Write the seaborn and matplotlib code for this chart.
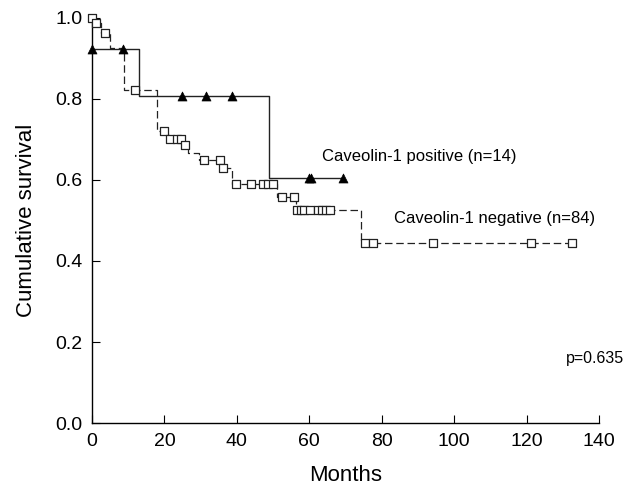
import numpy as np
import pandas as pd
import matplotlib
matplotlib.use("Agg")
import matplotlib.pyplot as plt
import seaborn as sns

# Kaplan-Meier steps (months, survival)
pos_times = [0, 13, 48.9, 69.4]
pos_surv = [0.923, 0.808, 0.606, 0.606]
pos_censor = [0, 8.5, 24.8, 31.4, 38.6, 59.8, 60.4, 69.4]

neg_times = [0, 1, 2.5, 5, 8.7, 18, 21, 25.5, 26.5, 29.5, 36, 38.6, 51, 56.3, 74.3, 132.5]
neg_surv = [1.0, 0.988, 0.964, 0.926, 0.822, 0.722, 0.700, 0.686, 0.667, 0.649,
            0.629, 0.589, 0.557, 0.526, 0.445, 0.445]
neg_censor = [0, 1, 3.5, 12, 19.8, 21.5, 23.4, 24.7, 25.7, 30.9, 35.4, 36.1,
              39.8, 44, 47.3, 48.6, 50, 52.4, 55.9, 56.7, 57.6, 58.6, 60.2,
              62.5, 63.4, 64.6, 65.7, 75.4, 77.6, 94.1, 121.2, 132.5]


def surv_at(times, surv, t):
    idx = np.searchsorted(times, t, side="right") - 1
    return np.asarray(surv)[idx]


pos_df = pd.DataFrame({"Months": pos_times, "S": pos_surv})
neg_df = pd.DataFrame({"Months": neg_times, "S": neg_surv})
pos_c = pd.DataFrame({"Months": pos_censor, "S": surv_at(pos_times, pos_surv, pos_censor)})
neg_c = pd.DataFrame({"Months": neg_censor, "S": surv_at(neg_times, neg_surv, neg_censor)})

sns.set_style("ticks")
plt.rcParams['font.family'] = ['Liberation Sans', 'DejaVu Sans']
plt.rcParams['text.color'] = 'black'
plt.rcParams['xtick.color'] = 'black'
plt.rcParams['ytick.color'] = 'black'
plt.rcParams['axes.labelcolor'] = 'black'
plt.rcParams['axes.edgecolor'] = 'black'

fig = plt.figure(figsize=(6.25, 4.94), dpi=100)
ax = fig.add_axes([0.1472, 0.1437, 0.8112, 0.8199])

sns.lineplot(data=neg_df, x="Months", y="S", ax=ax, drawstyle="steps-post",
             color="#222222", lw=0.9, linestyle=(0, (6, 3)), estimator=None)
sns.lineplot(data=pos_df, x="Months", y="S", ax=ax, drawstyle="steps-post",
             color="#222222", lw=1.0, estimator=None)
sns.scatterplot(data=neg_c, x="Months", y="S", ax=ax, marker="s", s=38,
                facecolor="white", edgecolor="#222222", linewidth=0.9,
                clip_on=False, zorder=4)
sns.scatterplot(data=pos_c, x="Months", y="S", ax=ax, marker="^", s=42,
                color="black", edgecolor="black", linewidth=0.5,
                clip_on=False, zorder=5)

ax.set_xlim(0, 140)
ax.set_ylim(0, 1.0)
ax.set_xticks(range(0, 141, 20))
ax.set_yticks([0.0, 0.2, 0.4, 0.6, 0.8, 1.0])
ax.set_yticklabels(["0.0", "0.2", "0.4", "0.6", "0.8", "1.0"])
ax.tick_params(direction="in", length=6, width=0.8, labelsize=14, pad=7)
ax.set_xlabel("Months", fontsize=16, labelpad=11)
ax.set_ylabel("Cumulative survival", fontsize=16, labelpad=13)
sns.despine(ax=ax)
for s in ["left", "bottom"]:
    ax.spines[s].set_linewidth(1.0)

ax.text(63.5, 0.657, "Caveolin-1 positive (n=14)", fontsize=12, va="center")
ax.text(83.4, 0.506, "Caveolin-1 negative (n=84)", fontsize=12, va="center")
ax.text(130.9, 0.16, "p=0.635", fontsize=11.5, va="center")

fig.savefig("out.png", dpi=100)
